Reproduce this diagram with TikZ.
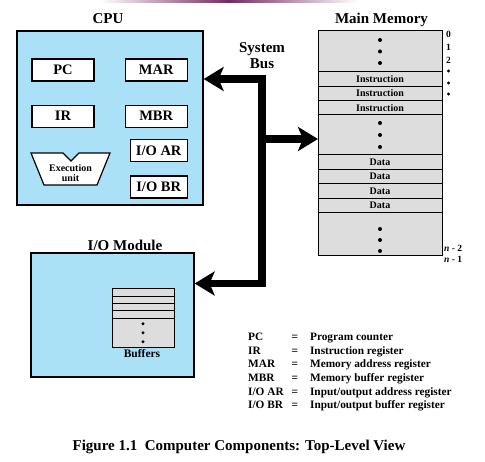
\documentclass[tikz,border=0pt]{standalone}
\usepackage{fontspec}
\setmainfont{Liberation Serif}
\usetikzlibrary{positioning,arrows.meta}
\definecolor{cpuc}{RGB}{170,225,246}
\definecolor{memc}{RGB}{221,221,221}
\definecolor{barc}{RGB}{118,42,98}
\newcommand\figfont[2]{\fontsize{#1}{#2}\selectfont\bfseries}
% three stacked dots at a named point
\newcommand\memdots[3]{\foreach \k in {-1,0,1} \fill ([yshift=\k*#2]#1) circle (#3);}
\tikzset{
  panel/.style={draw, line width=1.3pt, fill=cpuc},
  heading/.style={font=\figfont{15}{16}, align=center, inner sep=0pt},
  reg/.style={draw, line width=1.2pt, fill=white, minimum width=62pt, minimum height=22pt, inner sep=0pt, font=\figfont{14.5}{16}},
  cell/.style={draw, line width=1pt, fill=memc, minimum width=124pt, inner sep=0pt, outer sep=0pt, font=\figfont{10}{12}},
  buf/.style={draw, line width=1pt, fill=memc, minimum width=62pt, inner sep=0pt, outer sep=0pt},
  addr/.style={font=\figfont{9.5}{10}, inner sep=0pt, anchor=west},
  legendtxt/.style={font=\figfont{11.3}{13.6}, inner sep=0pt, anchor=north west, align=left},
  bus/.style={line width=7.5pt, line join=miter, >={Stealth[length=20pt, width=24pt, inset=5pt]}}
}

\begin{document}
\begin{tikzpicture}[x=1pt, y=-1pt]
  \useasboundingbox (0,0) rectangle (485,462);
  \shade[left color=white, right color=white, middle color=barc] (100,0) rectangle (357,2.5);

  % ---- CPU ----
  \node[panel, minimum width=186pt, minimum height=174pt] (cpu) at (110,118) {};
  \node[heading] (cpulbl) at (108,19) {CPU};
  \node[reg] (pc) at (63,70) {PC};
  \node[reg, right=30pt of pc] (mar) {MAR};
  \node[reg, below=23pt of pc] (ir) {IR};
  \node[reg, right=30pt of ir] (mbr) {MBR};
  \node[reg, minimum width=57pt, below=11.5pt of mbr.south east, anchor=north east] (ioar) {I/O AR};
  \node[reg, minimum width=57pt, below=13pt of ioar] (iobr) {I/O BR};
  \draw[line width=1.2pt, fill=white] (31,153) -- (63,153) -- (71,161) -- (79,153) -- (110,153) -- (97,185) -- (44,185) -- cycle;
  \node[font=\figfont{10}{10.5}, align=center, inner sep=0pt] (exec) at (70.5,173) {Execution\\unit};

  % ---- main memory ----
  \node[heading] (memlbl) at (381.5,20) {Main Memory};
  \node[cell, minimum height=41pt] (top) at (380,51.5) {};
  \node[cell, minimum height=14.33pt, below=0pt of top] (ins1) {Instruction};
  \node[cell, minimum height=14.33pt, below=0pt of ins1] (ins2) {Instruction};
  \node[cell, minimum height=14.33pt, below=0pt of ins2] (ins3) {Instruction};
  \node[cell, minimum height=40pt, below=0pt of ins3] (mid) {};
  \node[cell, minimum height=14.5pt, below=0pt of mid] (data1) {Data};
  \node[cell, minimum height=14.5pt, below=0pt of data1] (data2) {Data};
  \node[cell, minimum height=14.5pt, below=0pt of data2] (data3) {Data};
  \node[cell, minimum height=14.5pt, below=0pt of data3] (data4) {Data};
  \node[cell, minimum height=43pt, below=0pt of data4] (bot) {};
  \coordinate (botdots) at ([yshift=-5.5pt]bot.center);
  \memdots{top.center}{11.5pt}{2pt}
  \memdots{mid.center}{12pt}{2pt}
  \memdots{botdots}{11pt}{2pt}

  % addresses
  \foreach \t/\y in {0/34, 1/47, 2/60}
    \node[addr] (addr\t) at (446,\y) {\t};
  \foreach \y in {71, 83, 94}
    \fill (448.5,\y) circle (1.7pt);
  \node[addr] (addrn2) at (444,248) {\textit{n} - 2};
  \node[addr] (addrn1) at (444,259) {\textit{n} - 1};

  % ---- I/O module ----
  \node[panel, minimum width=163pt, minimum height=124pt] (io) at (112.5,315) {};
  \node[heading] (iolbl) at (125,245) {I/O Module};
  \node[buf, minimum height=7.3pt] (buf1) at (143,292.65) {};
  \node[buf, minimum height=7.3pt, below=0pt of buf1] (buf2) {};
  \node[buf, minimum height=7.3pt, below=0pt of buf2] (buf3) {};
  \node[buf, minimum height=7.3pt, below=0pt of buf3] (buf4) {};
  \node[buf, minimum height=29pt, below=0pt of buf4] (bufd) {};
  \memdots{bufd.center}{9pt}{1.6pt}
  \node[font=\figfont{11.5}{12}, inner sep=0pt] (buflbl) at (142,354) {Buffers};

  % ---- system bus ----
  \node[heading] (buslbl) at (262,56) {System\\Bus};
  \coordinate (bustop) at (262,79);
  \coordinate (busmid) at (262,139);
  \coordinate (busbot) at (262,283.5);
  \draw[bus, <->] (bustop -| cpu.east) -- (bustop) -- (busbot) -- (busbot -| io.east);
  \draw[bus, ->] (busmid) -- (busmid -| mid.west);

  % ---- legend ----
  \node[legendtxt] (legend) at (248,331) {%
    \begin{tabular}{@{}l@{\hspace{8pt}}l@{\hspace{12pt}}l@{}}
      PC & = & Program counter\\
      IR & = & Instruction register\\
      MAR & = & Memory address register\\
      MBR & = & Memory buffer register\\
      I/O AR & = & Input/output address register\\
      I/O BR & = & Input/output buffer register
    \end{tabular}};

  \node[font=\figfont{15}{16}, inner sep=0pt] (caption) at (239,447) {Figure 1.1~~Computer Components: Top-Level View};
\end{tikzpicture}
\end{document}
